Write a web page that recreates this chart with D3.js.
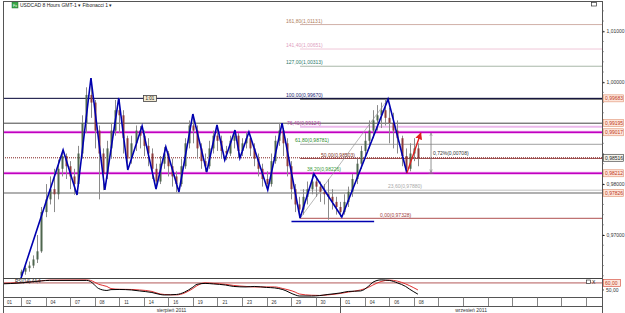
<!DOCTYPE html>
<html><head><meta charset="utf-8">
<script src="https://cdn.jsdelivr.net/npm/d3@7"></script>
<style>
body{margin:0;background:#fff;overflow:hidden}
text{font-family:Arial,"Liberation Sans",sans-serif}
</style>
</head><body>
<svg id="c" width="625" height="313"></svg>
<script>
// ---------------- DATA ----------------
const firstOpen = 0.9620;
const barClose = [0.9628,0.9635,0.9640,0.9652,0.9668,0.9745,0.9770,0.9790,0.9780,0.9830,
0.9855,0.9835,0.9815,0.9800,0.9860,0.9920,0.9975,0.9960,0.9905,0.9860,
0.9820,0.9870,0.9905,0.9945,0.9935,0.9890,0.9850,0.9880,0.9905,0.9895,
0.9875,0.9860,0.9830,0.9805,0.9840,0.9860,0.9835,0.9815,0.9800,0.9835,
0.9880,0.9915,0.9905,0.9870,0.9845,0.9835,0.9870,0.9895,0.9885,0.9865,
0.9860,0.9885,0.9895,0.9865,0.9880,0.9890,0.9870,0.9850,0.9830,0.9810,
0.9800,0.9845,0.9885,0.9905,0.9880,0.9835,0.9790,0.9760,0.9750,0.9775,
0.9790,0.9805,0.9795,0.9785,0.9780,0.9775,0.9765,0.9755,0.9745,0.9765,
0.9785,0.9810,0.9840,0.9865,0.9885,0.9905,0.9925,0.9935,0.9945,0.9930,
0.9920,0.9905,0.9890,0.9855,0.9830,0.9860,0.9870,0.9850];
const barHigh = [0.9632,0.9640,0.9648,0.9660,0.9700,0.9755,0.9800,0.9815,0.9830,0.9848,
0.9867,0.9860,0.9845,0.9830,0.9875,0.9935,0.9990,1.0008,0.9965,0.9915,
0.9870,0.9885,0.9920,0.9965,0.9969,0.9945,0.9895,0.9895,0.9915,0.9914,
0.9905,0.9890,0.9870,0.9840,0.9855,0.9873,0.9865,0.9850,0.9825,0.9850,
0.9890,0.9925,0.9937,0.9915,0.9880,0.9860,0.9885,0.9905,0.9916,0.9895,
0.9875,0.9895,0.9906,0.9900,0.9890,0.9902,0.9895,0.9880,0.9860,0.9840,
0.9825,0.9860,0.9895,0.9920,0.9910,0.9890,0.9845,0.9800,0.9775,0.9790,
0.9805,0.9820,0.9815,0.9805,0.9800,0.9810,0.9790,0.9775,0.9765,0.9780,
0.9795,0.9820,0.9850,0.9875,0.9900,0.9925,0.9945,0.9955,0.9960,0.9967,
0.9950,0.9940,0.9925,0.9895,0.9870,0.9880,0.9890,0.9880];
const barLow = [0.9615,0.9622,0.9628,0.9635,0.9645,0.9665,0.9735,0.9760,0.9745,0.9770,
0.9815,0.9810,0.9790,0.9779,0.9795,0.9850,0.9900,0.9930,0.9870,0.9770,
0.9788,0.9810,0.9850,0.9895,0.9900,0.9860,0.9828,0.9840,0.9865,0.9870,
0.9855,0.9835,0.9810,0.9790,0.9800,0.9830,0.9815,0.9795,0.9784,0.9795,
0.9830,0.9870,0.9880,0.9850,0.9830,0.9824,0.9830,0.9860,0.9865,0.9850,
0.9847,0.9855,0.9870,0.9851,0.9855,0.9870,0.9855,0.9835,0.9815,0.9795,
0.9788,0.9795,0.9840,0.9875,0.9855,0.9815,0.9770,0.9745,0.9733,0.9740,
0.9760,0.9780,0.9775,0.9765,0.9760,0.9730,0.9750,0.9740,0.9735,0.9740,
0.9755,0.9775,0.9800,0.9830,0.9850,0.9870,0.9890,0.9905,0.9910,0.9915,
0.9880,0.9870,0.9860,0.9835,0.9822,0.9825,0.9845,0.9835];

const zigBar   = [0, 10.3, 13.7, 17.1, 20.5, 23.9, 26.1, 29.6, 33.0, 35.4, 38.6, 42.0, 45.4, 47.9, 49.8, 52.3, 53.5, 55.7, 60.3, 63.8, 68.2, 71.6, 78.4, 89.7, 94.3];
const zigPrice = [0.9615, 0.98669, 0.97785, 1.00082, 0.97884, 0.99690, 0.98276, 0.99140, 0.97903, 0.98728, 0.97844, 0.99375, 0.98237, 0.99160, 0.98472, 0.99061, 0.98511, 0.99022, 0.97884, 0.99197, 0.97334, 0.98198, 0.97354, 0.99668, 0.98217];
const neckBar = [66.1, 86.3];
const neckPrice = [0.97265, 0.97265];
const arrowBar = [94.3, 97.7];
const arrowPrice = [0.98217, 0.99003];
const measureBar = 100.2;
const measurePrice = [0.99017, 0.98212];
const measureLabel = "0,72%(0,00708)";

const fibLevelNames = ["0,00","23,60","38,20","50,00","61,80","76,40","100,00","127,00","141,40","161,80"];
const fibPrices = [0.97328,0.97880,0.98226,0.98503,0.98781,0.99124,0.99670,1.00313,1.00651,1.01131];
const fibAnchorBar = 68.2, fibTopBar = 89.7;

const levelPrices = [0.99683,0.99195,0.99017,0.98516,0.98212,0.97826];
const levelLabels = ["0,99683","0,99195","0,99017","0,98516","0,98212","0,97826"];

const priceTicks = [0.97,0.98,1.00,1.01];
const priceTickLabels = ["0,97000","0,98000","1,00000","1,01000"];

const dateLabels = ["01","02","04","07","08","11","14","16","19","21","23","26","29","30","01","04","06","08"];
const monthLabels = ["sierpień 2011","wrzesień 2011"];

const indIdx = [-5,0,5,7,16,17,18,19,21,22,24,27,29,32,34,35,38,40,42,43,45,47,50,52,55,57,60,62,64,67,68,71,73,75,78,80,83,85,86,88,90,92,94,95,97];
const indMain = [58.6,60,62.9,63.6,63.6,62,57,52,49.3,50.5,50.7,50,48.6,46.4,43.6,42.9,43.6,47,54,58,59.3,58.6,57,55,54.3,55,53.6,52.9,50.5,43,41.4,41.4,42,43.6,45.7,47.9,48.6,55.7,61,64.3,63.6,60,55,51,44];
const indSignal = [59.3,60.5,63,64,64.3,63.6,61,58,55,52,51,50.7,50,47.9,44.3,43.6,43,45.7,52,56,60,59.3,58,56.4,55,54.3,54.3,54.3,52,47,44.3,42.5,42.2,43,45,47,50,54,57,62,64,62.5,58.6,56,50];
const indLevel = 60, indLevelLabel = "60,00", indTick = 50, indTickLabel = "50,00";

// ---------------- LAYOUT ----------------
const L = 3, R = 602, T = 1, MB = 278, IB = 297, DB = 306, H = 313;
const svg = d3.select("#c");
const x = d3.scaleLinear().domain([-6, 141]).range([-3.6, 598]);
const y = d3.scaleLinear().domain([0.97328, 0.99670]).range([218.3, 99]);
const yi = d3.scaleLinear().domain([40, 67]).range([IB, MB]);

const defs = svg.append("defs");
defs.append("clipPath").attr("id","mc").append("rect").attr("x",L).attr("y",T).attr("width",R-L).attr("height",MB-T);
defs.append("clipPath").attr("id","ic").append("rect").attr("x",L).attr("y",MB).attr("width",R-L).attr("height",IB-MB);
const marker = defs.append("marker").attr("id","ar").attr("viewBox","0 0 10 10").attr("refX",9).attr("refY",5)
  .attr("markerWidth",5).attr("markerHeight",5).attr("orient","auto-start-reverse");
marker.append("path").attr("d","M0,0L10,5L0,10z").attr("fill","#e02020");
const marker2 = defs.append("marker").attr("id","ag").attr("viewBox","0 0 10 10").attr("refX",9).attr("refY",5)
  .attr("markerWidth",4).attr("markerHeight",4).attr("orient","auto-start-reverse");
marker2.append("path").attr("d","M0,1L10,5L0,9").attr("fill","none").attr("stroke","#777").attr("stroke-width",1.5);

const main = svg.append("g").attr("clip-path","url(#mc)");

// Fibonacci lines (from anchor to right)
const fibStyle = [
  {c:"#b05050",w:1,t:"#a04040",lx:380},
  {c:"#c0c0c0",w:1,t:"#a8a8a8",lx:388},
  {c:"#90c090",w:1,t:"#3a9a3a",lx:307},
  {c:"#a05050",w:1,t:"#803020",lx:321},
  {c:"#a0a0a0",w:1,t:"#2a8a2a",lx:295},
  {c:"#ecb8ec",w:2,t:"#b040a0",lx:287},
  {c:"#000",w:1,t:"#202070",lx:286},
  {c:"#a8b8a8",w:1,t:"#2a7a6a",lx:286},
  {c:"#f0c8d8",w:1,t:"#e0a0c0",lx:286},
  {c:"#d0b0a8",w:1,t:"#b08060",lx:286}
];
fibPrices.forEach((p,i)=>{
  main.append("line").attr("x1",x(fibAnchorBar)).attr("x2",R).attr("y1",y(p)).attr("y2",y(p))
    .attr("stroke",fibStyle[i].c).attr("stroke-width",fibStyle[i].w);
});

// full width horizontal levels
const levelStyle = [
  {c:"#000033",w:1},{c:"#444",w:1},{c:"#c000c0",w:1.4,halo:"#f2b0f2"},
  {c:"#802020",w:1,dash:"1,1"},{c:"#c000c0",w:1.4,halo:"#f2b0f2"},{c:"#b0b0b0",w:2}
];
levelPrices.forEach((p,i)=>{
  const s = levelStyle[i];
  if (s.halo) main.append("line").attr("x1",L).attr("x2",R).attr("y1",y(p)).attr("y2",y(p)).attr("stroke",s.halo).attr("stroke-width",3);
  main.append("line").attr("x1",L).attr("x2",R).attr("y1",y(p)).attr("y2",y(p))
    .attr("stroke",s.c).attr("stroke-width",s.w).attr("stroke-dasharray",s.dash||null);
});

// fib trend line
main.append("line").attr("x1",x(fibAnchorBar)).attr("y1",y(fibPrices[0])).attr("x2",x(fibTopBar)).attr("y2",y(fibPrices[6]))
  .attr("stroke","#999").attr("stroke-width",0.7);

// candles
const bars = barClose.map((c,i)=>({i, o: i===0?firstOpen:barClose[i-1], h:barHigh[i], l:barLow[i], c}));
const cg = main.append("g");
cg.selectAll("line.w").data(bars).join("line").attr("class","w")
  .attr("x1",d=>Math.round(x(d.i))+0.5).attr("x2",d=>Math.round(x(d.i))+0.5)
  .attr("y1",d=>y(d.h)).attr("y2",d=>y(d.l)).attr("stroke","#8a8a8a").attr("stroke-width",1);
cg.selectAll("rect").data(bars).join("rect")
  .attr("x",d=>Math.round(x(d.i))-0.5).attr("width",2)
  .attr("y",d=>y(Math.max(d.o,d.c))).attr("height",d=>Math.max(1,Math.abs(y(d.o)-y(d.c))))
  .attr("fill",d=>d.c>=d.o?"#4f664f":"#8c3c3c");

// fib labels
fibPrices.forEach((p,i)=>{
  main.append("text").attr("x",fibStyle[i].lx).attr("y",y(p)-1.8).attr("font-size",5)
    .attr("fill",fibStyle[i].t).text(fibLevelNames[i]+"("+d3.format(".5f")(p).replace(".",",")+")");
});

// zigzag
const zz = zigBar.map((b,i)=>[x(b),y(zigPrice[i])]);
main.append("path").attr("d",d3.line()(zz)).attr("fill","none").attr("stroke","#0000b0").attr("stroke-width",1.6);
main.append("line").attr("x1",x(neckBar[0])).attr("x2",x(neckBar[1])).attr("y1",y(neckPrice[0])).attr("y2",y(neckPrice[1]))
  .attr("stroke","#0000b0").attr("stroke-width",1.6);
main.append("line").attr("x1",x(arrowBar[0])).attr("y1",y(arrowPrice[0])).attr("x2",x(arrowBar[1])).attr("y2",y(arrowPrice[1]))
  .attr("stroke","#e02020").attr("stroke-width",1.4).attr("marker-end","url(#ar)");
// measure arrow
main.append("line").attr("x1",x(measureBar)).attr("x2",x(measureBar)).attr("y1",y(measurePrice[0])+1).attr("y2",y(measurePrice[1])-1)
  .attr("stroke","#777").attr("stroke-width",0.8).attr("marker-end","url(#ag)").attr("marker-start","url(#ag)");
main.append("line").attr("x1",x(measureBar)-2.5).attr("x2",x(measureBar)+2.5).attr("y1",y(measurePrice[1])).attr("y2",y(measurePrice[1])).attr("stroke","#777").attr("stroke-width",0.8);
main.append("text").attr("x",x(measureBar)+2).attr("y",y((measurePrice[0]+measurePrice[1])/2)+2).attr("font-size",5).attr("fill","#333").text(measureLabel);

// small label box
main.append("rect").attr("x",143.5).attr("y",95.5).attr("width",13).attr("height",6).attr("fill","#f3ead2").attr("stroke","#444").attr("stroke-width",0.8);
main.append("text").attr("x",150).attr("y",100.3).attr("font-size",4.5).attr("text-anchor","middle").attr("fill","#222").text("1:01");

// title
svg.append("rect").attr("x",12).attr("y",2).attr("width",6).attr("height",6).attr("fill","#3aa84a").attr("stroke","#207030").attr("stroke-width",0.5);
svg.append("text").attr("x",13).attr("y",6.6).attr("font-size",3.5).attr("fill","#fff").text("Fx");
svg.append("text").attr("x",20).attr("y",6.8).attr("font-size",5).attr("fill","#222").text("USDCAD 8 Hours GMT-1  ▾   Fibonacci 1 ▾");
svg.append("rect").attr("x",591.5).attr("y",2.5).attr("width",5).attr("height",3.5).attr("fill","#fff").attr("stroke","#333").attr("stroke-width",0.7);

// indicator
const ind = svg.append("g").attr("clip-path","url(#ic)");
ind.append("line").attr("x1",L).attr("x2",R).attr("y1",yi(indLevel)).attr("y2",yi(indLevel)).attr("stroke","#a03030").attr("stroke-width",0.8);
const il = d3.line().curve(d3.curveMonotoneX);
ind.append("path").attr("d",il(indIdx.map((b,i)=>[x(b),yi(indSignal[i])]))).attr("fill","none").attr("stroke","#e03030").attr("stroke-width",1);
ind.append("path").attr("d",il(indIdx.map((b,i)=>[x(b),yi(indMain[i])]))).attr("fill","none").attr("stroke","#000").attr("stroke-width",1);
svg.append("text").attr("x",15).attr("y",282.5).attr("font-size",4.5).attr("fill","#222").text("RSI(14) 44,4");
svg.append("rect").attr("x",586.5).attr("y",280).attr("width",4).attr("height",3.5).attr("fill","#fff").attr("stroke","#333").attr("stroke-width",0.7);
svg.append("text").attr("x",592).attr("y",283.5).attr("font-size",5).attr("fill","#222").text("X");

// frames
svg.append("rect").attr("x",L+0.5).attr("y",T+0.5).attr("width",R-L).attr("height",IB-T).attr("fill","none").attr("stroke","#555").attr("stroke-width",1);
svg.append("line").attr("x1",L).attr("x2",R).attr("y1",MB+0.5).attr("y2",MB+0.5).attr("stroke","#444");
svg.append("line").attr("x1",R+0.5).attr("x2",R+0.5).attr("y1",T).attr("y2",H).attr("stroke","#555");
svg.append("line").attr("x1",L).attr("x2",R).attr("y1",DB+0.5).attr("y2",DB+0.5).attr("stroke","#555");
svg.append("line").attr("x1",L+0.5).attr("x2",L+0.5).attr("y1",IB).attr("y2",H).attr("stroke","#555");

// right price axis
const yAxis = d3.axisRight(y).tickValues(priceTicks).tickSize(2).tickFormat((d,i)=>priceTickLabels[i]);
const ya = svg.append("g").attr("transform",`translate(${R+0.5},0)`).call(yAxis);
ya.select(".domain").remove();
ya.selectAll("text").attr("font-size",5).attr("fill","#333").attr("dx",-1);
const minor = d3.range(0.962, 1.0155, 0.002);
svg.append("g").selectAll("line").data(minor).join("line").attr("x1",R).attr("x2",R+2).attr("y1",d=>y(d)).attr("y2",d=>y(d)).attr("stroke","#666").attr("stroke-width",0.6);

// level boxes
const boxStyle = [
  {f:"#fde6dc",s:"#e09070",t:"#c03818"},{f:"#fde6dc",s:"#e09070",t:"#c03818"},{f:"#fde6dc",s:"#e09070",t:"#c03818"},
  {f:"#f4f4ec",s:"#333",t:"#222"},{f:"#fde6dc",s:"#e09070",t:"#c03818"},{f:"#fde6dc",s:"#e09070",t:"#c03818"}];
levelPrices.forEach((p,i)=>{
  const yy = y(p);
  svg.append("rect").attr("x",603.5).attr("y",yy-3.5).attr("width",20).attr("height",7).attr("fill",boxStyle[i].f).attr("stroke",boxStyle[i].s).attr("stroke-width",0.6);
  svg.append("text").attr("x",605).attr("y",yy+1.8).attr("font-size",5).attr("fill",boxStyle[i].t).text(levelLabels[i]);
});
// indicator axis
svg.append("rect").attr("x",603.5).attr("y",yi(indLevel)-3.5).attr("width",17).attr("height",7).attr("fill","#fde6dc").attr("stroke","#d04030").attr("stroke-width",0.6);
svg.append("text").attr("x",605).attr("y",yi(indLevel)+1.8).attr("font-size",5).attr("fill","#c03818").text(indLevelLabel);
svg.append("line").attr("x1",R).attr("x2",R+2).attr("y1",yi(indTick)).attr("y2",yi(indTick)).attr("stroke","#555");
svg.append("text").attr("x",606).attr("y",yi(indTick)+1.8).attr("font-size",5).attr("fill","#333").text(indTickLabel);

// date axis
const tickBars = d3.range(-6, 142, 6);
const dg = svg.append("g");
dg.selectAll("line").data(tickBars).join("line")
  .attr("x1",d=>Math.round(x(d))+0.5).attr("x2",d=>Math.round(x(d))+0.5).attr("y1",IB).attr("y2",DB)
  .attr("stroke","#666").attr("stroke-width",0.8);
dg.selectAll("text").data(dateLabels).join("text")
  .attr("x",(d,i)=>Math.max(x(tickBars[i])+5, 7)).attr("y",303.5).attr("font-size",4.5).attr("fill","#333").text(d=>d);
// month row
const sepBar = 78;
svg.append("line").attr("x1",Math.round(x(sepBar))+0.5).attr("x2",Math.round(x(sepBar))+0.5).attr("y1",IB).attr("y2",H).attr("stroke","#555");
svg.append("text").attr("x",(L+x(sepBar))/2).attr("y",311.5).attr("font-size",5).attr("text-anchor","middle").attr("fill","#333").text(monthLabels[0]);
svg.append("text").attr("x",(x(sepBar)+R)/2).attr("y",311.5).attr("font-size",5).attr("text-anchor","middle").attr("fill","#333").text(monthLabels[1]);
</script>
</body></html>
